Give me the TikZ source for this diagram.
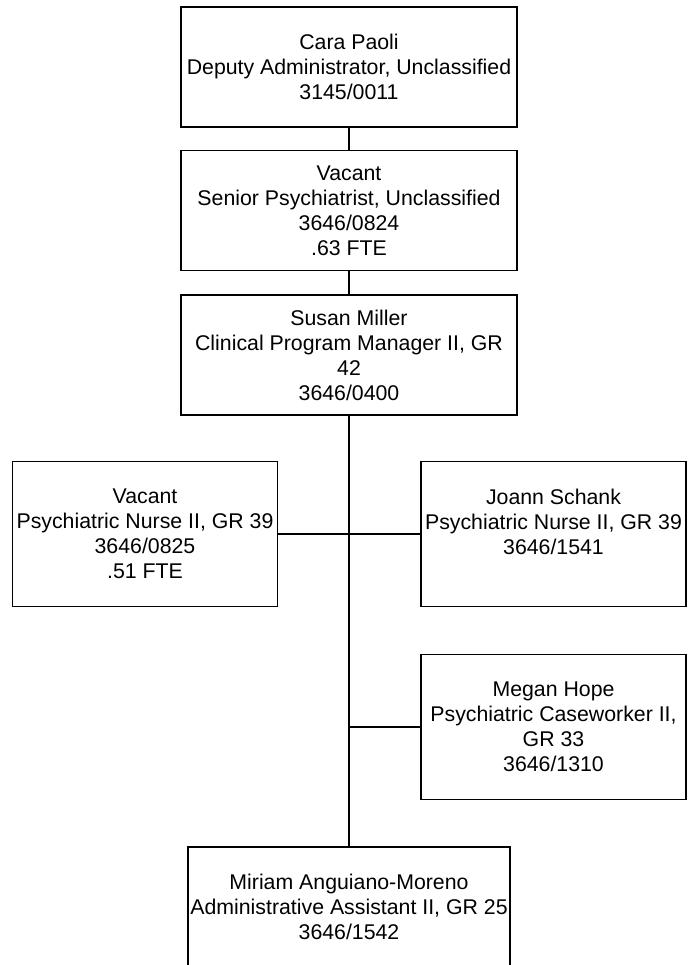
\documentclass[tikz,border=0pt]{standalone}
\usepackage{fontspec}
\setmainfont{Liberation Sans}
\usetikzlibrary{positioning}
\begin{document}
\begin{tikzpicture}[x=1pt,y=-1pt,
    post/.style={draw,line width=1.8pt,align=center,inner sep=0pt,
                 font=\fontsize{21.3}{25}\selectfont},
    widepost/.style={post,minimum width=336pt,minimum height=120pt},
    sidepost/.style={post,minimum width=265pt,minimum height=145pt},
    link/.style={line width=1.8pt}]
    \useasboundingbox (0,0) rectangle (687,965); % page size
    \pgfmathsetmacro {\xm}{349}    %x of the main line
    \pgfmathsetmacro {\xl}{145}    %x of left column
    \pgfmathsetmacro {\xr}{553.5}  %x of right column

    % Chain at the top
    \node[widepost] (cara) at (\xm,67)
        {Cara Paoli\\Deputy Administrator, Unclassified\\3145/0011};
    \node[widepost] (senior) at (\xm,210.5)
        {Vacant\\Senior Psychiatrist, Unclassified\\3646/0824\\.63 FTE};
    \node[widepost] (susan) at (\xm,355)
        {Susan Miller\\Clinical Program Manager II, GR\\42\\3646/0400};

    % Posts under Susan Miller
    \node[sidepost] (nurse) at (\xl,534)
        {Vacant\\Psychiatric Nurse II, GR 39\\3646/0825\\.51 FTE};
    \node[sidepost] (joann) at (\xr,534)
        {Joann Schank\\Psychiatric Nurse II, GR 39\\3646/1541\\~};
    \node[sidepost] (megan) at (\xr,727)
        {Megan Hope\\Psychiatric Caseworker II,\\GR 33\\3646/1310};
    \node[sidepost,minimum width=322pt] (miriam) at (\xm,919.5)
        {Miriam Anguiano-Moreno\\Administrative Assistant II, GR 25\\3646/1542\\~};

    % Lines
    \draw[link] (cara) -- (senior);
    \draw[link] (senior) -- (susan);
    \draw[link] (susan.south) -- (miriam.north);
    \draw[link] (nurse.east) -- (joann.west);
    \coordinate (megtap) at (susan.south |- megan.west); %Tap on main line
    \draw[link] (megan.west) -- (megtap);
\end{tikzpicture}
\end{document}
